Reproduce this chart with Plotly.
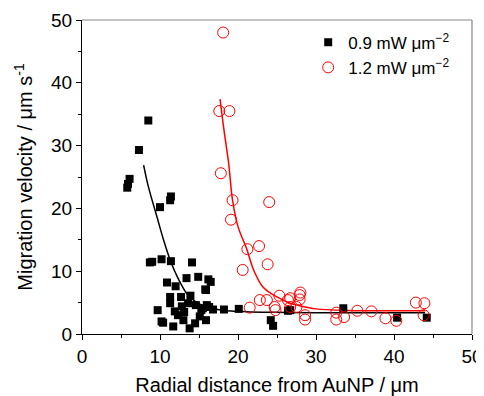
import plotly.graph_objects as go

# Black squares: 0.9 mW um^-2
x_09 = [8.5, 7.3, 6.1, 5.9, 5.8, 11.4, 11.3, 10.0, 8.7, 9.0, 10.2, 11.4, 14.1,
        10.9, 12.0, 13.4, 14.9, 16.2, 15.8, 11.3, 12.7, 13.9, 9.7, 11.3, 11.9,
        12.8, 13.6, 14.6, 15.3, 10.2, 10.4, 11.7, 13.0, 13.8, 14.5, 15.1, 12.3,
        13.1, 16.5, 15.9, 16.0, 16.3, 16.8, 15.5, 15.9, 18.2, 20.1, 24.2, 24.5,
        26.4, 33.5, 40.4, 44.2, 26.7]
y_09 = [34.0, 29.3, 24.7, 23.9, 23.3, 21.9, 21.3, 20.2, 11.4, 11.5, 11.9, 11.6, 11.4,
        8.2, 7.6, 8.9, 9.1, 8.7, 7.1, 5.9, 5.9, 6.1, 3.8, 4.9, 3.6,
        4.4, 4.9, 4.6, 3.8, 2.0, 1.8, 1.2, 2.2, 0.9, 1.7, 2.8, 3.0,
        3.5, 8.3, 7.0, 4.6, 4.3, 3.9, 4.1, 2.2, 3.9, 4.0, 2.2, 1.3,
        3.7, 4.1, 2.6, 2.6, 3.8]

# Red open circles: 1.2 mW um^-2
x_12 = [18.1, 17.6, 18.9, 17.8, 19.3, 24.0, 19.1, 21.2, 22.7, 20.6, 23.8, 21.5,
        22.8, 23.7, 24.7, 25.3, 26.4, 26.7, 27.9, 28.0, 27.9, 26.7, 28.6, 28.6,
        27.5, 32.6, 33.6, 32.6, 35.3, 37.1, 38.9, 40.3, 42.8, 43.9, 43.8, 24.8]
y_12 = [48.0, 35.5, 35.5, 25.6, 21.3, 21.0, 18.2, 13.5, 14.0, 10.2, 11.1, 4.2,
        5.4, 5.4, 4.3, 6.1, 5.4, 4.3, 6.2, 6.6, 5.5, 5.7, 3.0, 2.3,
        4.3, 2.3, 2.7, 3.4, 3.7, 3.6, 2.5, 2.1, 5.0, 4.9, 3.0, 3.8]

# Fitted decay curves
fit09_x = [7.9, 8.5, 9.6, 10.5, 11.3, 12.3, 13.4, 14.5, 16.0, 18.0, 21.0, 25.0, 30.0, 44.0]
fit09_y = [26.9, 23.5, 18.7, 14.8, 11.8, 8.9, 6.5, 5.2, 4.3, 3.8, 3.55, 3.45, 3.4, 3.4]
fit12_x = [17.7, 18.2, 18.8, 19.3, 20.0, 21.1, 22.0, 23.2, 25.0, 26.7, 27.9, 30.0, 34.0, 44.0]
fit12_y = [37.4, 32.5, 27.2, 21.3, 17.1, 13.6, 10.2, 7.5, 5.9, 4.9, 4.5, 4.0, 3.75, 3.7]

legend_09 = "0.9 mW \u03bcm<sup>\u22122</sup>"
legend_12 = "1.2 mW \u03bcm<sup>\u22122</sup>"

FONT = "Liberation Sans, Arial, sans-serif"

fig = go.Figure()
fig.add_trace(go.Scatter(x=fit09_x, y=fit09_y, mode="lines", line=dict(color="black", width=1.5, shape="spline"),
                         showlegend=False, hoverinfo="skip"))
fig.add_trace(go.Scatter(x=fit12_x, y=fit12_y, mode="lines", line=dict(color="red", width=1.5, shape="spline"),
                         showlegend=False, hoverinfo="skip"))
fig.add_trace(go.Scatter(x=x_09, y=y_09, mode="markers", name=legend_09,
                         marker=dict(symbol="square", size=8, color="black", line=dict(width=0))))
fig.add_trace(go.Scatter(x=x_12, y=y_12, mode="markers", name=legend_12,
                         marker=dict(symbol="circle-open", size=11, color="red", line=dict(width=1, color="red"))))

axis_common = dict(
    range=[0, 50], dtick=10, showgrid=False, zeroline=False, automargin=False,
    showline=True, linecolor="black", linewidth=1.2,
    ticks="outside", ticklen=5, tickwidth=1, tickcolor="black",
    minor=dict(ticks="outside", ticklen=3, dtick=5, tickcolor="black", tickwidth=1),
    tickfont=dict(family=FONT, size=19, color="black"),
)

# page adds an 8px body margin, so the figure is sized and margined to compensate
fig.update_layout(
    width=476, height=388,
    margin=dict(l=74, r=12, t=12, b=62),
    paper_bgcolor="white", plot_bgcolor="white",
    font=dict(family=FONT, color="black"),
    xaxis=dict(**axis_common, title=dict(text="Radial distance from AuNP / \u03bcm",
                                         font=dict(family=FONT, size=20), standoff=14)),
    yaxis=dict(**axis_common, title=dict(text="Migration velocity / \u03bcm s<sup>-1</sup>",
                                         font=dict(family=FONT, size=20), standoff=12)),
    legend=dict(x=0.58, y=0.985, xanchor="left", yanchor="top", bgcolor="rgba(0,0,0,0)",
                font=dict(family=FONT, size=17), itemwidth=30, tracegroupgap=0),
    showlegend=True,
)

# gray top and right frame lines
fig.add_shape(type="line", xref="paper", yref="paper", x0=0, x1=1, y0=1, y1=1,
              line=dict(color="#888888", width=1.2))
fig.add_shape(type="line", xref="paper", yref="paper", x0=1, x1=1, y0=0, y1=1,
              line=dict(color="#888888", width=1.2))

fig.write_html("out.html")
